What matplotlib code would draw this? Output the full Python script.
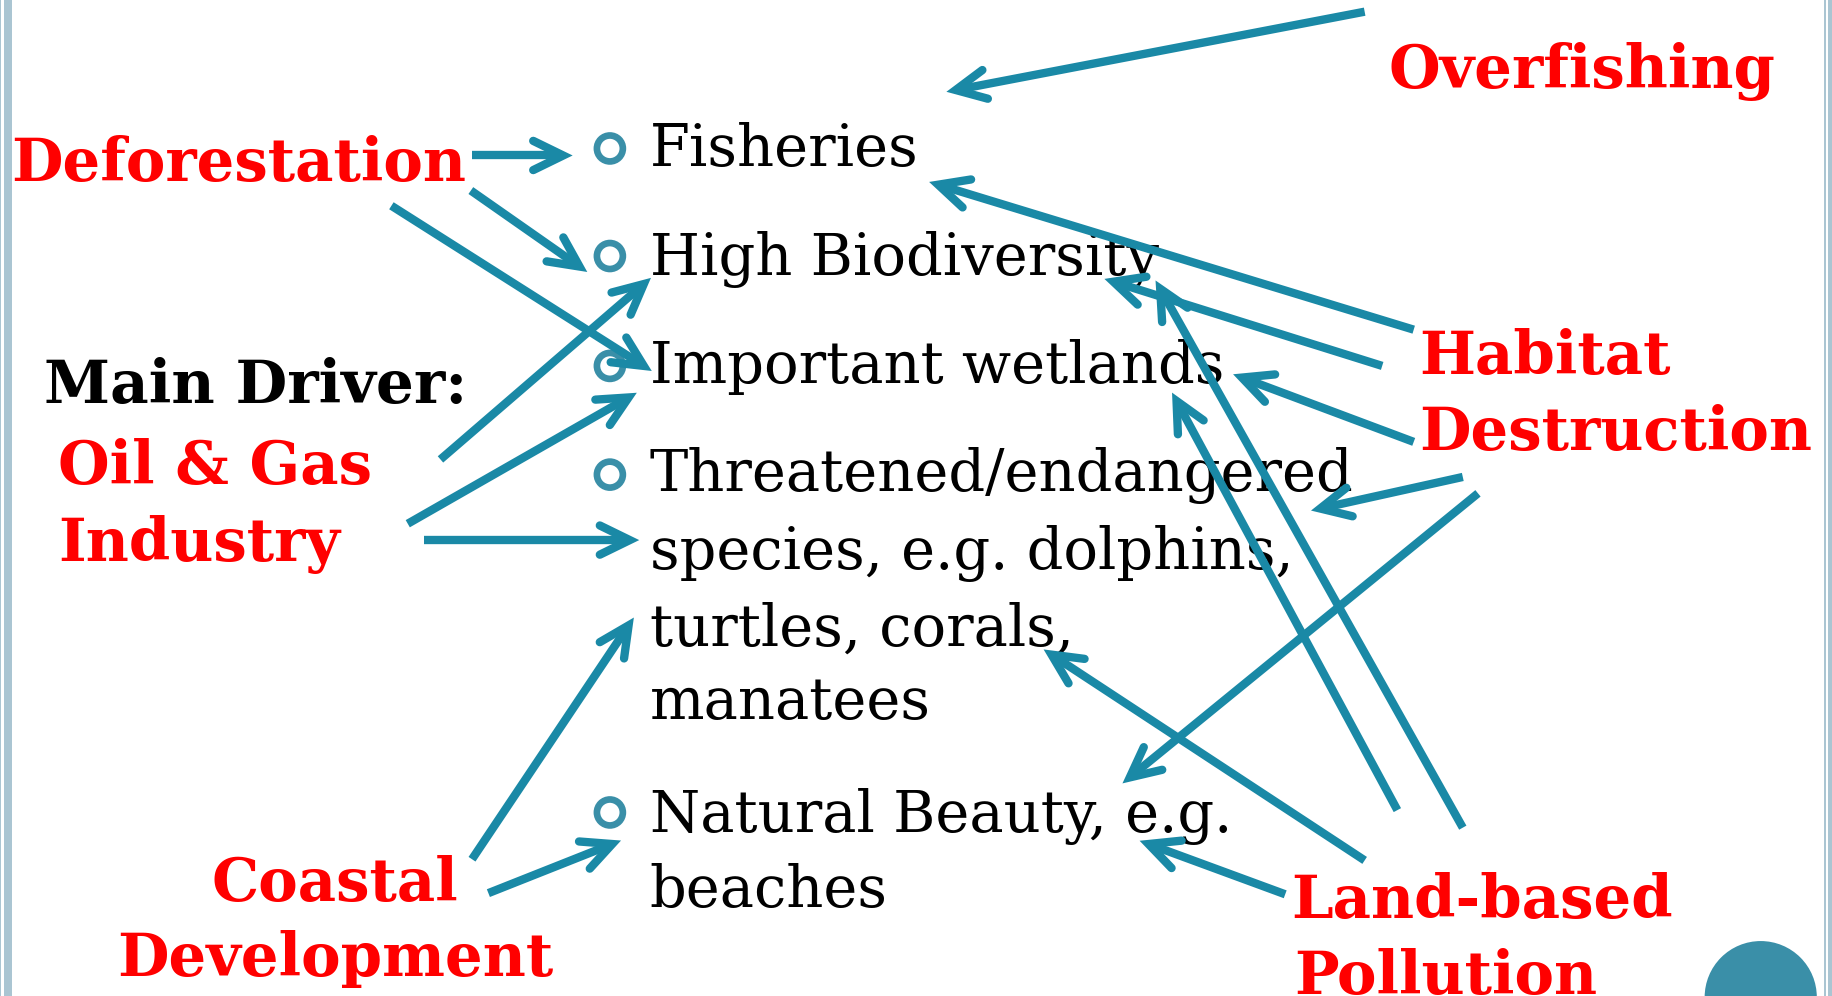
import matplotlib
matplotlib.use("Agg")
import matplotlib.pyplot as plt
import numpy as np
from matplotlib.patches import Circle, Rectangle

# ---------------- data (reference frame 1568 x 852, y downwards) ----------------
body_texts = ["Fisheries", "High Biodiversity", "Important wetlands",
              "Threatened/endangered", "species, e.g. dolphins,", "turtles, corals,",
              "manatees", "Natural Beauty, e.g.", "beaches"]
body_baselines = [142, 235, 328, 420, 487, 552, 615, 712, 776]
bullet_y = [127, 219, 313, 406, 695]

driver_texts = ["Overfishing", "Deforestation", "Oil & Gas", "Industry", "Habitat",
                "Destruction", "Coastal", "Development", "Land-based", "Pollution"]
driver_x = [1188, 10, 50, 50, 1215, 1215, 287, 287, 1105, 1108]
driver_y = [75, 155, 414, 480, 320, 385, 771, 835, 785, 850]
driver_ha = ["left", "left", "left", "left", "left", "left", "center", "center", "left", "left"]

heading_text = "Main Driver:"
heading_pos = (38, 345)

arrow_from = [(1168, 10), (404, 133), (403, 163), (335, 176), (377, 393), (349, 448),
              (363, 462), (404, 735), (418, 764), (1210, 282), (1183, 313), (1210, 378),
              (1252, 408), (1265, 422), (1252, 708), (1196, 693), (1168, 736), (1100, 765)]
arrow_to = [(818, 77), (482, 133), (496, 228), (551, 313), (551, 243), (538, 340),
            (539, 462), (538, 535), (524, 722), (803, 158), (953, 241), (1063, 323),
            (1130, 435), (967, 665), (993, 247), (1007, 343), (900, 560), (983, 722)]

# ---------------- styling ----------------
W, H = 1568, 852
ARROW_C = "#1a89a6"
BULLET_C = "#3a8fa8"
BORDER_C = "#aac5d2"
RED = "#ff0000"
SERIF = "DejaVu Serif"

fig = plt.figure(figsize=(18.32, 9.96), dpi=100)
ax = fig.add_axes([0, 0, 1, 1])
ax.set_xlim(0, W)
ax.set_ylim(H, 0)
ax.axis("off")
fig.patch.set_facecolor("white")
renderer = fig.canvas.get_renderer()
scale = 1832 / W  # output px per reference unit


def fit_size(text, target_w, weight):
    t = ax.text(0, 0, text, fontsize=40, family=SERIF, fontweight=weight)
    w = t.get_window_extent(renderer).width
    t.remove()
    return 40 * target_w * scale / w

body_fs = fit_size("Threatened/endangered", 1157 - 556, "normal")
red_fs = np.mean([fit_size("Destruction", 335, "bold"),
                  fit_size("Deforestation", 388, "bold"),
                  fit_size("Overfishing", 334, "bold"),
                  fit_size("Land-based", 327, "bold")])
head_fs = fit_size(heading_text, 362, "bold")

# borders
ax.add_patch(Rectangle((0, 0), 1.2, H, color=BORDER_C, lw=0))
ax.add_patch(Rectangle((3.5, 0), 6.5, H, color=BORDER_C, lw=0))
ax.add_patch(Rectangle((1561, 0), 1.5, H, color=BORDER_C, lw=0))
ax.add_patch(Rectangle((1565, 0), 3, H, color=BORDER_C, lw=0))

# bottom-right decoration
ax.add_patch(Circle((1507, 853), 48, color=BULLET_C, lw=0))

# body text
for txt, yb in zip(body_texts, body_baselines):
    ax.text(556, yb, txt, fontsize=body_fs, family=SERIF, color="black",
            ha="left", va="baseline", zorder=2)

# bullets
for yb in bullet_y:
    ax.add_patch(Circle((522, yb), 11.1, fill=False, ec=BULLET_C, lw=4.8, zorder=2))

# driver labels
for txt, x, y, ha in zip(driver_texts, driver_x, driver_y, driver_ha):
    ax.text(x, y, txt, fontsize=red_fs, family=SERIF, fontweight="bold", color=RED,
            ha=ha, va="baseline", zorder=2)
ax.text(heading_pos[0], heading_pos[1], heading_text, fontsize=head_fs, family=SERIF,
        fontweight="bold", color="black", ha="left", va="baseline", zorder=2)

# arrows
LW = 6.0
ARM = 28.5
ANG = np.deg2rad(26)
for (x0, y0), (x1, y1) in zip(arrow_from, arrow_to):
    d = np.array([x1 - x0, y1 - y0], float)
    u = d / np.hypot(*d)
    ax.plot([x0, x1 - u[0] * 3], [y0, y1 - u[1] * 3], color=ARROW_C, lw=LW,
            solid_capstyle="butt", zorder=3)
    arms = []
    for s in (ANG, -ANG):
        c, sn = np.cos(s), np.sin(s)
        r = np.array([u[0] * c - u[1] * sn, u[0] * sn + u[1] * c])
        arms.append((x1 - ARM * r[0], y1 - ARM * r[1]))
    ax.plot([arms[0][0], x1, arms[1][0]], [arms[0][1], y1, arms[1][1]], color=ARROW_C,
            lw=LW, solid_capstyle="round", solid_joinstyle="miter", zorder=3)

fig.savefig("out.png", dpi=100, facecolor="white")
